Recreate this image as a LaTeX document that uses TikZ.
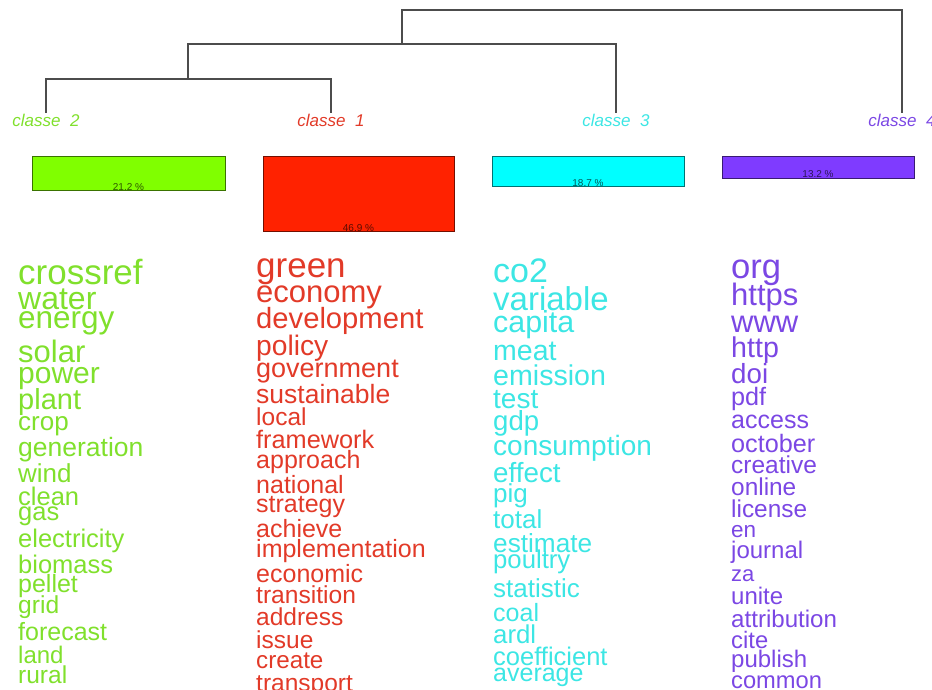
\documentclass[tikz,border=0pt]{standalone}
\usepackage{fontspec}
\setmainfont{Liberation Sans}
\definecolor{barvert}{HTML}{80FF00}
\definecolor{barrouge}{HTML}{FF2200}
\definecolor{barcyan}{HTML}{00FFFF}
\definecolor{barviolet}{HTML}{7F3BFF}
\definecolor{txtvert}{HTML}{80E02C}
\definecolor{txtrouge}{HTML}{E23A28}
\definecolor{txtcyan}{HTML}{3CE6E4}
\definecolor{txtviolet}{HTML}{7B47E4}

\begin{document}
\begin{tikzpicture}[x=1pt, y=-1pt,
  mot/.style={anchor=base west, inner sep=0pt},
  classe/.style={anchor=base, inner sep=0.5pt, font=\fontsize{17}{17}\selectfont\itshape},
  pct/.style={anchor=base, inner sep=0pt, font=\fontsize{10}{10}\selectfont},
  branche/.style={line width=1.2pt, black!70}]
\useasboundingbox (0,0) rectangle (932,689);
\begin{scope}
  \clip (0,0) rectangle (932,689);
  % classes and tree
  \node[classe, txtvert]   (c2) at (46,126)  {classe\ \ 2};
  \node[classe, txtrouge]  (c1) at (331,126) {classe\ \ 1};
  \node[classe, txtcyan]   (c3) at (616,126) {classe\ \ 3};
  \node[classe, txtviolet] (c4) at (902,126) {classe\ \ 4};
  \coordinate (j21) at (188,79);
  \coordinate (j213) at (402,44);
  \coordinate (jtop) at (402,10);
  \draw[branche] (c2.north) |- (j21) -| (c1.north);
  \draw[branche] (j21) |- (j213) -| (c3.north);
  \draw[branche] (j213) |- (jtop) -| (c4.north);
  % bars
  \draw[fill=barvert, draw=barvert!45!black] (32,156) rectangle (225,190);
  \node[pct, barvert!35!black] (p2) at (128.5,190) {21.2 \%};
  \draw[fill=barrouge, draw=barrouge!45!black] (263,156) rectangle (454,231);
  \node[pct, barrouge!35!black] (p1) at (358.5,231) {46.9 \%};
  \draw[fill=barcyan, draw=barcyan!45!black] (492,156) rectangle (684,186);
  \node[pct, barcyan!35!black] (p3) at (588,186) {18.7 \%};
  \draw[fill=barviolet, draw=barviolet!45!black] (722,156) rectangle (914,178);
  \node[pct, barviolet!35!black] (p4) at (818,177) {13.2 \%};
  % words
  \foreach \w/\s/\y [count=\i] in {crossref/35/284, water/32/309, energy/31.5/328,
      solar/31/362, power/30/383, plant/29/409, crop/26/430, generation/26.5/456,
      wind/26/482, clean/25.5/505, gas/25.5/520, electricity/25.5/547, biomass/25.5/573,
      pellet/25/592, grid/24.6/613, forecast/25/640, land/24/663, rural/24.5/683}
    {	\node[mot, txtvert, font=\fontsize{\s}{\s}\selectfont] (v\i) at (18,\y) {\w};
    }
  \foreach \w/\s/\y [count=\i] in {green/35/277, economy/31/302, development/29.2/328,
      policy/28.2/355, government/27/377, sustainable/26.5/403, local/24.5/425,
      framework/25.3/448, approach/25/468, national/25/493, strategy/25/512,
      achieve/25/537, implementation/25/557, economic/25/582, transition/24.6/603,
      address/24.5/625, issue/24.5/648, create/24.2/668, transport/24.5/691}
    {	\node[mot, txtrouge, font=\fontsize{\s}{\s}\selectfont] (r\i) at (256,\y) {\w};
    }
  \foreach \w/\s/\y [count=\i] in {co2/34/282, variable/33/310, capita/30.4/332,
      meat/28.5/360, emission/28.6/385, test/28/408, gdp/27.6/430, consumption/28/455,
      effect/27.8/482, pig/26/502, total/26/528, estimate/26.2/552, poultry/25.7/568,
      statistic/26/597, coal/25/621, ardl/25.8/643, coefficient/25.5/665, average/25/681}
    {	\node[mot, txtcyan, font=\fontsize{\s}{\s}\selectfont] (b\i) at (493,\y) {\w};
    }
  \foreach \w/\s/\y [count=\i] in {org/34.6/278, https/31/305, www/31/332, http/28.6/357,
      doi/27.7/383, pdf/25.2/405, access/25/428, october/25.2/452, creative/24.5/473,
      online/24.4/495, license/24.4/517, en/22.5/537, journal/24/558, za/22/581,
      unite/24/604, attribution/24.1/627, cite/23.8/648, publish/24/667, common/23.7/688}
    {	\node[mot, txtviolet, font=\fontsize{\s}{\s}\selectfont] (o\i) at (731,\y) {\w};
    }
\end{scope}
\end{tikzpicture}
\end{document}
